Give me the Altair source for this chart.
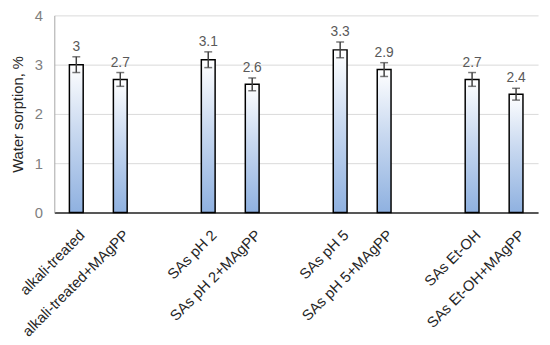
import altair as alt
import pandas as pd

categories = ["alkali-treated", "alkali-treated+MAgPP", "SAs pH 2", "SAs pH 2+MAgPP",
              "SAs pH 5", "SAs pH 5+MAgPP", "SAs Et-OH", "SAs Et-OH+MAgPP"]
values = [3.0, 2.7, 3.1, 2.6, 3.3, 2.9, 2.7, 2.4]
errors = [0.16, 0.14, 0.16, 0.13, 0.16, 0.14, 0.14, 0.12]
labels = ["3", "2.7", "3.1", "2.6", "3.3", "2.9", "2.7", "2.4"]
domain = ["alkali-treated", "alkali-treated+MAgPP", "gap1", "SAs pH 2", "SAs pH 2+MAgPP", "gap2",
          "SAs pH 5", "SAs pH 5+MAgPP", "gap3", "SAs Et-OH", "SAs Et-OH+MAgPP"]

df = pd.DataFrame({"cat": categories, "val": values, "err": errors, "lab": labels})
df["lo"] = df["val"] - df["err"]
df["hi"] = df["val"] + df["err"]

x = alt.X("cat:N", scale=alt.Scale(domain=domain, paddingInner=0, paddingOuter=0),
          axis=alt.Axis(title=None, labelAngle=-45, labelAlign="right", labelBaseline="middle",
                        labelFontSize=15, labelColor="#262626", labelFont="Liberation Sans, sans-serif",
                        ticks=False, labelPadding=20, labelOffset=6, domainColor="#262626", domainWidth=1.5,
                        labelExpr="indexof(datum.value, 'gap') == 0 ? '' : datum.value",
                        labelLimit=300))

grad = alt.Gradient(gradient="linear", x1=0, x2=0, y1=0, y2=1,
                    stops=[alt.GradientStop(color="#ffffff", offset=0),
                           alt.GradientStop(color="#c9d9f0", offset=0.45),
                           alt.GradientStop(color="#8fb1e0", offset=1)])

base = alt.Chart(df).encode(x=x)

bars = base.mark_bar(size=14, fill=grad, stroke="#000000", strokeWidth=1.5).encode(
    y=alt.Y("val:Q", scale=alt.Scale(domain=[0, 4]),
            axis=alt.Axis(title="Water sorption, %", values=[0, 1, 2, 3, 4], format="d",
                          labelFontSize=15, labelColor="#7f7f7f", ticks=False, labelPadding=12,
                          domain=True, domainColor="#a6a6a6", gridColor="#d9d9d9",
                          titleFontSize=15, titleFontWeight="normal", titleColor="#262626",
                          titleFont="Liberation Sans, sans-serif", titlePadding=9))
)

rules = base.mark_rule(color="#404040", strokeWidth=1.5).encode(y="lo:Q", y2="hi:Q")
caps_lo = base.mark_tick(color="#404040", size=8, thickness=1.5).encode(y="lo:Q")
caps_hi = base.mark_tick(color="#404040", size=8, thickness=1.5).encode(y="hi:Q")
texts = base.mark_text(baseline="bottom", dy=-3, fontSize=14, color="#595959").encode(
    y="hi:Q", text="lab:N")

chart = alt.layer(bars, rules, caps_lo, caps_hi, texts).properties(
    width=491, height=200,
    autosize=alt.AutoSizeParams(type="none"),
    padding={"left": 47, "top": 5, "right": 4, "bottom": 129},
).configure_view(stroke=None).configure_axis(grid=True).configure_axisX(grid=False)

chart.save("out.html", embed_options={"renderer": "svg", "actions": False})
